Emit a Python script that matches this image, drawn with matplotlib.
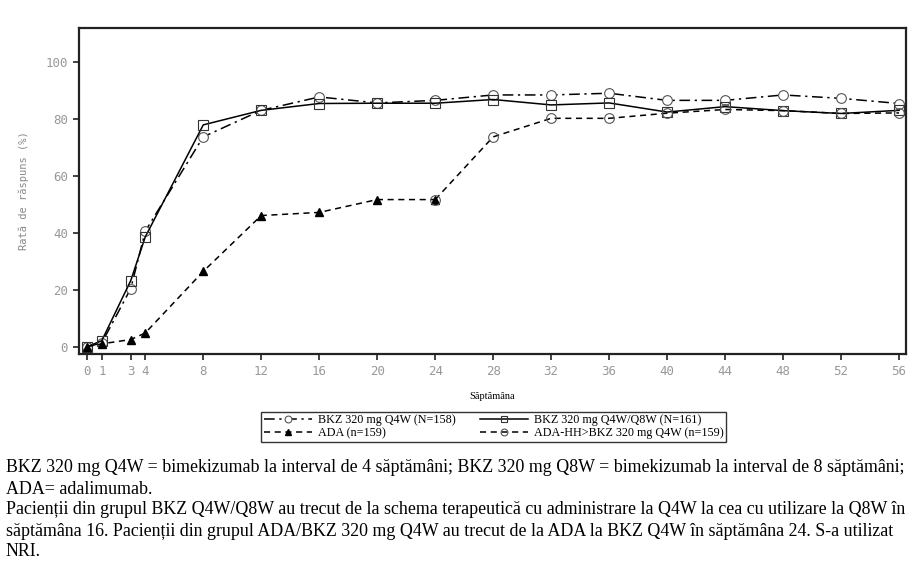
import matplotlib.pyplot as plt

# weeks and response rates (%)
weeks = [0, 1, 3, 4, 8, 12, 16, 20, 24, 28, 32, 36, 40, 44, 48, 52, 56]
bkz_q4w = [0, 1.3, 20.4, 40.5, 73.6, 82.9, 87.6, 85.5, 86.4, 88.3, 88.3, 88.9, 86.4, 86.4, 88.3, 87.1, 85.3]
bkz_q4w_q8w = [0, 2.1, 23.2, 38.5, 77.8, 82.9, 85.3, 85.4, 85.4, 86.7, 84.8, 85.5, 82.3, 84.2, 82.8, 81.8, 82.9]

ada_weeks = [0, 1, 3, 4, 8, 12, 16, 20, 24]
ada = [0, 1.0, 2.5, 4.8, 26.4, 46.0, 47.1, 51.6, 51.6]

switch_weeks = [24, 28, 32, 36, 40, 44, 48, 52, 56]
ada_bkz = [51.6, 73.6, 80.1, 80.1, 81.9, 83.2, 82.8, 81.8, 82.0]

yticks = [0, 20, 40, 60, 80, 100]

footnote = [
    "BKZ 320 mg Q4W = bimekizumab la interval de 4 săptămâni; BKZ 320 mg Q8W = bimekizumab la interval de 8 săptămâni;",
    "ADA= adalimumab.",
    "Pacienții din grupul BKZ Q4W/Q8W au trecut de la schema terapeutică cu administrare la Q4W la cea cu utilizare la Q8W în",
    "săptămâna 16. Pacienții din grupul ADA/BKZ 320 mg Q4W au trecut de la ADA la BKZ Q4W în săptămâna 24. S-a utilizat",
    "NRI.",
]

fig = plt.figure(figsize=(9.23, 5.67), dpi=100)
ax = fig.add_axes([0.0856, 0.3757, 0.896, 0.575])

l1, = ax.plot(weeks, bkz_q4w, color="black", lw=1.1, dashes=(7, 3, 1.5, 3),
              marker="o", ms=7, mfc="white", mec="#555555", mew=0.8)
l2, = ax.plot(weeks, bkz_q4w_q8w, color="black", lw=1.1, ls="-",
              marker="s", ms=7, mfc="none", mec="#333333", mew=0.8)
l3, = ax.plot(ada_weeks, ada, color="black", lw=1.1, dashes=(4, 3),
              marker="^", ms=5.5, mfc="black", mec="black")
l4, = ax.plot(switch_weeks, ada_bkz, color="black", lw=1.1, dashes=(4, 3),
              marker="o", ms=7, mfc="none", mec="#555555", mew=0.8)

ax.set_xlim(-0.57, 56.48)
ax.set_ylim(-2.56, 111.8)
ax.set_xticks(weeks)
ax.set_yticks(yticks)
mono = "DejaVu Sans Mono"
for lab in ax.get_xticklabels() + ax.get_yticklabels():
    lab.set_fontfamily(mono)
    lab.set_fontsize(9)
    lab.set_color("#999999")
ax.tick_params(direction="out", length=4, width=1.2, color="#222222", pad=4)
for s in ax.spines.values():
    s.set_linewidth(1.6)
    s.set_color("#222222")

ax.set_xlabel("Săptămâna", family="Liberation Serif", fontsize=7.5, labelpad=10)
ax.set_ylabel("Rată de răspuns (%)", family=mono, fontsize=7.5, color="#888888", labelpad=12)

# fig.legend fills columns first, so order handles to get rows (Q4W, Q4W/Q8W), (ADA, ADA-HH)
leg = fig.legend([l1, l3, l2, l4],
                 ["BKZ 320 mg Q4W (N=158)", "ADA (n=159)",
                  "BKZ 320 mg Q4W/Q8W (N=161)", "ADA-HH>BKZ 320 mg Q4W (n=159)"],
                 loc="center", bbox_to_anchor=(0.535, 0.2475), ncol=2,
                 prop={"family": "Liberation Serif", "size": 8.7},
                 frameon=True, fancybox=False, edgecolor="black",
                 handlelength=4, handletextpad=0.5, columnspacing=2.0,
                 labelspacing=0.12, borderpad=0.2, markerscale=0.7)
leg.get_frame().set_linewidth(1.0)

for i, line in enumerate(footnote):
    fig.text(0.006, 1 - (468 + 21 * i) / 567, line, family="Liberation Serif",
             fontsize=12.9, va="center", ha="left")

fig.savefig("out.png", dpi=100)
